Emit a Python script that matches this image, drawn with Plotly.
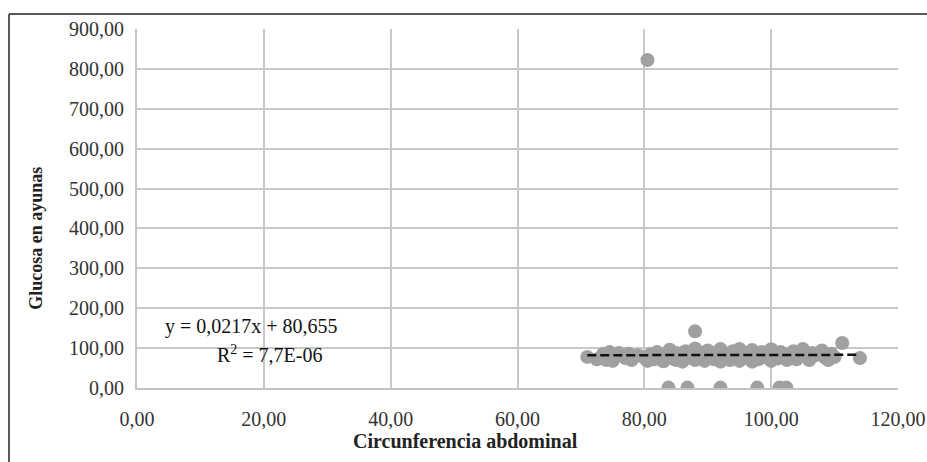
import plotly.graph_objects as go

# --- data ---
circunferencia = [
    71.0, 72.5, 73.5, 74.0, 74.5, 75.0, 75.5, 76.0, 77.0, 77.5, 78.0, 79.0,
    80.0, 80.5, 81.0, 81.5, 82.0, 82.5, 83.0, 83.5, 84.0, 84.5, 85.0, 85.0,
    85.5, 86.0, 86.5, 87.0, 87.5, 88.0, 88.0, 88.5, 89.0, 89.5, 90.0, 90.0,
    90.5, 91.0, 91.5, 92.0, 92.0, 92.5, 93.0, 93.5, 94.0, 94.0, 94.5, 95.0,
    95.0, 95.5, 96.0, 96.5, 97.0, 97.0, 97.5, 98.0, 98.5, 99.0, 99.5, 100.0,
    100.0, 100.5, 101.0, 101.5, 102.0, 102.5, 103.0, 103.5, 104.0, 104.5,
    105.0, 105.5, 106.0, 106.5, 107.0, 108.0, 108.5, 109.0, 109.5, 110.0,
    80.5, 88.0, 111.2, 114.0,
    83.8, 86.8, 92.0, 97.8, 101.3, 102.4,
]
glucosa = [
    78, 72, 85, 70, 90, 68, 80, 88, 75, 86, 70, 82,
    76, 68, 85, 72, 90, 78, 67, 84, 96, 74, 70, 88,
    80, 66, 92, 76, 84, 99, 70, 80, 88, 68, 94, 76,
    84, 72, 90, 66, 98, 80, 86, 70, 92, 76, 84, 98,
    68, 80, 88, 74, 95, 66, 82, 72, 90, 78, 86, 97,
    68, 80, 74, 90, 84, 70, 78, 92, 72, 86,
    98, 78, 70, 88, 82, 94, 76, 70, 86, 78,
    822, 142, 113, 75,
    1, 1, 1, 1, 1, 1,
]

# linear trend (Excel-style trendline)
slope = 0.0217
intercept = 80.655
eq_text = "y = 0,0217x + 80,655"
r2_text = "R<sup>2</sup> = 7,7E-06"

x_title = "Circunferencia abdominal"
y_title = "Glucosa en ayunas"

x_min, x_max = min(circunferencia), max(circunferencia)
trend_x = [x_min, x_max]
trend_y = [slope * v + intercept for v in trend_x]

FONT = "Liberation Serif"

fig = go.Figure()
fig.add_trace(go.Scatter(
    x=circunferencia, y=glucosa, mode="markers",
    marker=dict(color="#a0a0a0", size=14, line=dict(width=0)),
    showlegend=False, hoverinfo="skip",
))
fig.add_trace(go.Scatter(
    x=trend_x, y=trend_y, mode="lines",
    line=dict(color="#111111", width=2.5, dash="9px,4px"),
    showlegend=False, hoverinfo="skip",
))

axis_common = dict(
    showgrid=True, gridcolor="#c8c8c8", gridwidth=2,
    showline=True, linecolor="#c4c4c4", linewidth=2,
    zeroline=False, tickformat=".2f", automargin=False,
    tickfont=dict(family=FONT, size=20, color="#333333"),
    ticks="outside", tickcolor="rgba(0,0,0,0)",
)

fig.update_layout(
    width=927, height=462,
    margin=dict(l=137, r=29, t=29, b=74),
    paper_bgcolor="white", plot_bgcolor="white",
    font=dict(family=FONT),
    separators=", ",
    xaxis=dict(range=[0, 120], dtick=20, tick0=0, ticklen=12, **axis_common),
    yaxis=dict(range=[0, 900], dtick=100, tick0=0, ticklen=7, **axis_common),
    annotations=[
        dict(text=eq_text, xref="paper", yref="paper", x=0.151, y=0.170,
             showarrow=False, xanchor="center", yanchor="middle",
             font=dict(family=FONT, size=20, color="#111111")),
        dict(text=r2_text, xref="paper", yref="paper", x=0.175, y=0.0947,
             showarrow=False, xanchor="center", yanchor="middle",
             font=dict(family=FONT, size=20, color="#111111")),
        dict(text="<b>" + x_title + "</b>", xref="paper", yref="paper",
             x=0.432, y=-0.148, showarrow=False, xanchor="center", yanchor="middle",
             font=dict(family=FONT, size=20, color="#222222")),
        dict(text="<b>" + y_title + "</b>", xref="paper", yref="paper",
             x=-0.133, y=0.418, showarrow=False, xanchor="center", yanchor="middle",
             textangle=-90, font=dict(family=FONT, size=18, color="#222222")),
    ],
    shapes=[
        dict(type="line", xref="paper", yref="paper", x0=-0.1682, x1=1.05,
             y0=1.0418, y1=1.0418, line=dict(color="#595959", width=2)),
        dict(type="line", xref="paper", yref="paper", x0=-0.1682, x1=-0.1682,
             y0=1.0418, y1=-0.3, line=dict(color="#595959", width=2)),
    ],
)

fig.write_html("out.html")
